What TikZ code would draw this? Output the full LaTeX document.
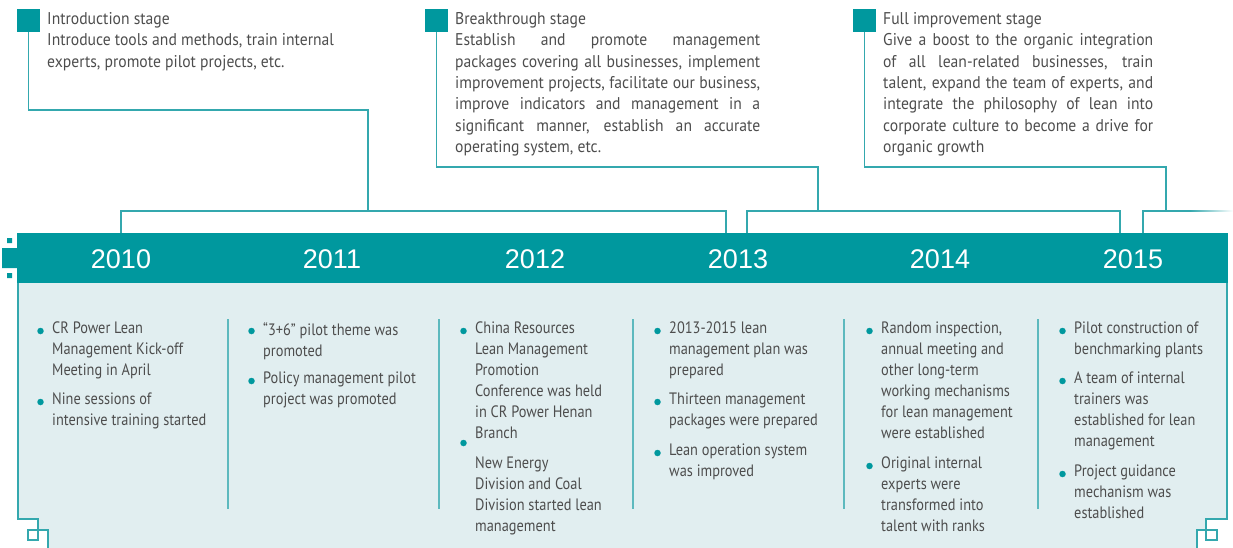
\documentclass[tikz,border=0pt]{standalone}
\usepackage{fontspec}
\setmainfont[FakeStretch=0.87]{PT Sans}
\newfontfamily\stagefont[FakeStretch=0.92]{PT Sans}
\newfontfamily\yearfont{Liberation Sans}
\usetikzlibrary{positioning}
\definecolor{crteal}{RGB}{0,152,158}
\definecolor{crlink}{RGB}{52,168,174}
\definecolor{crpanel}{RGB}{225,238,240}
\definecolor{crtext}{RGB}{77,77,77}
\newcommand{\jl}[2]{\makebox[#1][s]{#2}}
\tikzset{
  stagesq/.style={fill=crteal, minimum size=23pt, inner sep=0pt},
  stagetxt/.style={anchor=north west, inner sep=0pt, align=left, text=crtext, font=\stagefont\fontsize{17}{21.4}\selectfont},
  yearlbl/.style={text=white, inner sep=0pt, font=\yearfont\fontsize{27}{30}\selectfont},
  itemtxt/.style={anchor=north west, inner sep=0pt, align=left, text=crtext, font=\fontsize{16.5}{21}\selectfont},
  bulletdot/.style={circle, fill=crteal, inner sep=0pt, minimum size=6.5pt},
  link/.style={draw=crlink, line width=1.5pt},
  sepline/.style={draw=crlink!80, line width=1.2pt}
}
\begin{document}
\begin{tikzpicture}[x=1pt,y=-1pt]
  \useasboundingbox (0,0) rectangle (1233,548);
  % light panel
  \fill[crpanel] (18,283) -- (1227,283) -- (1227,519) -- (1206,519) -- (1206,530) -- (1197,530)
    -- (1197,548) -- (48,548) -- (48,530) -- (38,530) -- (38,519) -- (18,519) -- cycle;
  \draw[link] (18,283) -- (18,519) -- (38,519) -- (38,540) -- (28,540) -- (28,530) -- (48,530) -- (48,548);
  \draw[link] (1227,283) -- (1227,519) -- (1206,519) -- (1206,540) -- (1217,540) -- (1217,530) -- (1197,530) -- (1197,548);

  % year band
  \fill[crteal] (17,233) rectangle (1228,283);
  \fill[crteal] (2,248) rectangle (17,268) (7,238) rectangle (12,243) (7,273) rectangle (12,278);
  \coordinate (bt) at (0,233);
  \coordinate (br) at (0,211);
  \foreach \yr/\x in {2010/121, 2011/332, 2012/535, 2013/738, 2014/940, 2015/1133}
    \node[yearlbl] (y\yr) at (\x,259) {\yr};

  % column separators
  \foreach \x in {228,439,633,844,1038}
    \draw[sepline] (\x,319) -- (\x,509);

  % stages
  \node[stagesq] (s1) at (28.5,20.5) {};
  \node[stagesq] (s2) at (436.5,20.5) {};
  \node[stagesq] (s3) at (864.5,20.5) {};
  \node[stagetxt] (t1) at (47,12) {Introduction stage\\
    Introduce tools and methods, train internal\\
    experts, promote pilot projects, etc.};
  \node[stagetxt] (t2) at (455,12) {Breakthrough stage\\
    \jl{305pt}{Establish and promote management}\\
    \jl{305pt}{packages covering all businesses, implement}\\
    \jl{305pt}{improvement projects, facilitate our business,}\\
    \jl{305pt}{improve indicators and management in a}\\
    \jl{305pt}{significant manner, establish an accurate}\\
    operating system, etc.};
  \node[stagetxt] (t3) at (883,12) {Full improvement stage\\
    \jl{270pt}{Give a boost to the organic integration}\\
    \jl{270pt}{of all lean-related businesses, train}\\
    \jl{270pt}{talent, expand the team of experts, and}\\
    \jl{270pt}{integrate the philosophy of lean into}\\
    \jl{270pt}{corporate culture to become a drive for}\\
    organic growth};

  % connectors
  \coordinate (k1) at (368,110);
  \coordinate (k2) at (818,167);
  \coordinate (k3) at (1166,167);
  \coordinate (fe) at (1233,211);
  \draw[link] (s1.south) |- (k1) -- (k1 |- br);
  \draw[link] (s2.south) |- (k2) -- (k2 |- br);
  \draw[link] (s3.south) |- (k3) -- (k3 |- br);
  \draw[link] (y2010 |- bt) |- ([xshift=-12pt]y2013 |- br) -- ([xshift=-12pt]y2013 |- bt);
  \draw[link] ([xshift=9pt]y2013 |- bt) |- ([xshift=-13pt]y2015 |- br) -- ([xshift=-13pt]y2015 |- bt);
  \draw[link] ([xshift=10pt]y2015 |- bt) |- (1190,211);
  \shade[left color=crlink, right color=white] (1190,210.25) rectangle (fe |- 0,211.75);

  % bullet items
  \foreach \x/\y/\d/\t [count=\n] in {
      52/322/9/{CR Power Lean\\Management Kick-off\\Meeting in April},
      52/393/9/{Nine sessions of\\intensive training started},
      263/322/9/{“3+6” pilot theme was\\promoted},
      263/372/9/{Policy management pilot\\project was promoted},
      475/322/9/{China Resources\\Lean Management\\Promotion\\Conference was held\\in CR Power Henan\\Branch},
      475/457/-14/{New Energy\\Division and Coal\\Division started lean\\management},
      669/322/9/{2013-2015 lean\\management plan was\\prepared},
      669/393/9/{Thirteen management\\packages were prepared},
      669/444/9/{Lean operation system\\was improved},
      881/322/9/{Random inspection,\\annual meeting and\\other long-term\\working mechanisms\\for lean management\\were established},
      881/457/9/{Original internal\\experts were\\transformed into\\talent with ranks},
      1074/322/9/{Pilot construction of\\benchmarking plants},
      1074/372/9/{A team of internal\\trainers was\\established for lean\\management},
      1074/465/9/{Project guidance\\mechanism was\\established}}
  {
    \node[itemtxt] (i\n) at (\x,\y) {\t};
    \node[bulletdot] (d\n) at ([xshift=-11.5pt,yshift=-\d pt]i\n.north west) {};
  }
\end{tikzpicture}
\end{document}
